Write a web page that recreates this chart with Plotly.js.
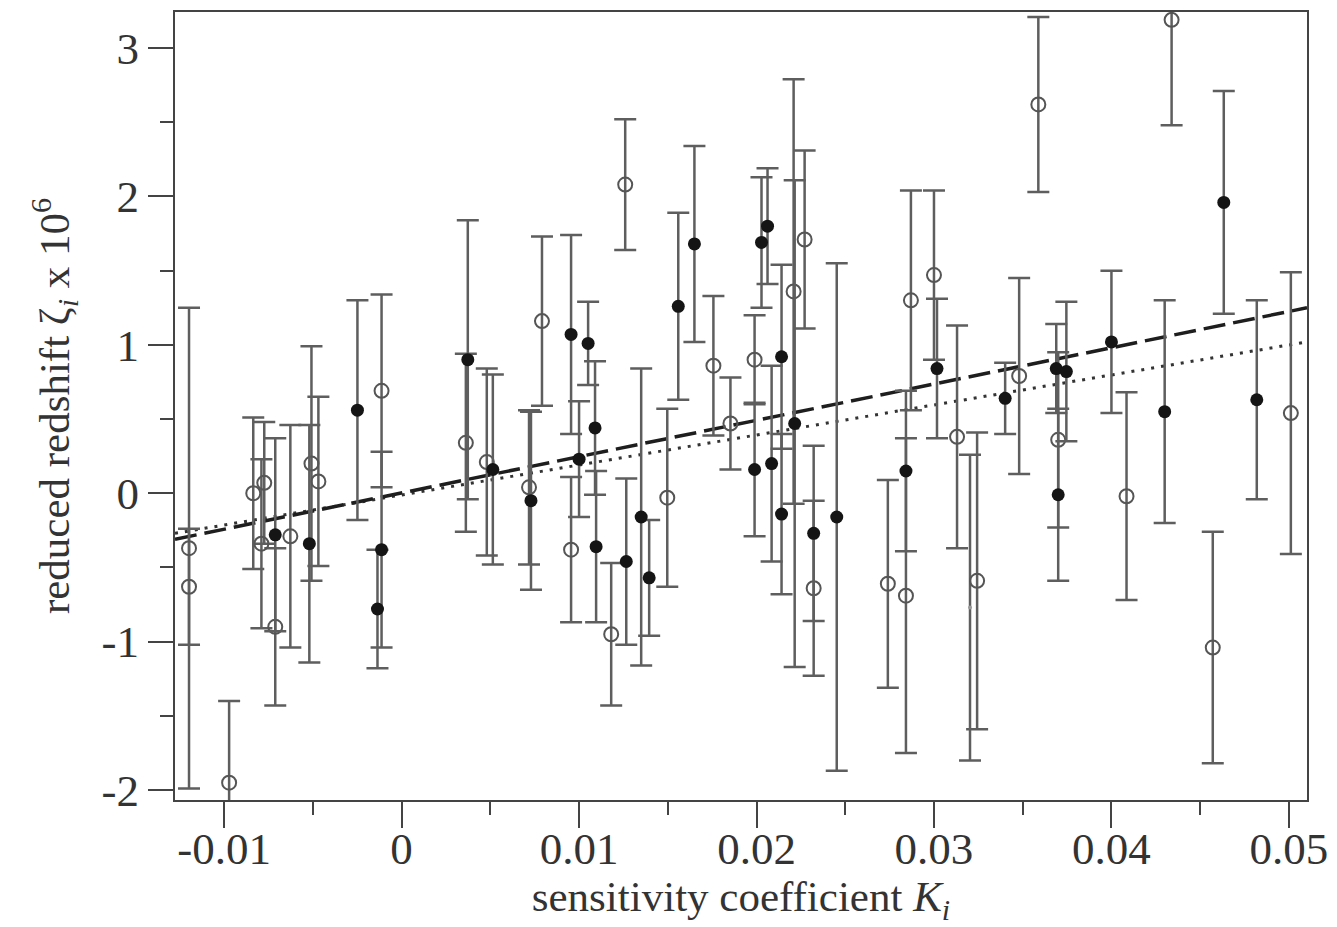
<!DOCTYPE html>
<html>
<head>
<meta charset="utf-8">
<script src="https://cdn.plot.ly/plotly-3.0.1.min.js"></script>
<style>html,body{margin:0;padding:0;background:#fff;}#chart{width:1337px;height:927px;}</style>
</head>
<body>
<div id="chart"></div>
<script>
// Open circles: sensitivity coefficient K, reduced redshift, 1-sigma error
const openK = [-0.01198, -0.01198, -0.00972, -0.00836, -0.00774, -0.0079, -0.00712, -0.00627, -0.00508, -0.00469,
  -0.00113, 0.00362, 0.0048, 0.00718, 0.00791, 0.00955, 0.01181, 0.0126, 0.01497, 0.01757,
  0.01853, 0.01989, 0.02209, 0.02271, 0.02322, 0.0287, 0.02842, 0.0274, 0.03, 0.0313,
  0.03243, 0.0348, 0.037, 0.03588, 0.04339, 0.04085, 0.04571, 0.05011];
const openZ = [-0.37, -0.63, -1.95, 0.00, 0.07, -0.34, -0.90, -0.29, 0.20, 0.08,
  0.69, 0.34, 0.21, 0.04, 1.16, -0.38, -0.95, 2.08, -0.03, 0.86,
  0.47, 0.90, 1.36, 1.71, -0.64, 1.30, -0.69, -0.61, 1.47, 0.38,
  -0.59, 0.79, 0.36, 2.62, 3.19, -0.02, -1.04, 0.54];
const openErr = [1.62, 0.39, 0.55, 0.51, 0.41, 0.57, 0.53, 0.75, 0.79, 0.57,
  0.65, 0.60, 0.63, 0.52, 0.57, 0.49, 0.48, 0.44, 0.60, 0.47,
  0.31, 0.30, 1.43, 0.60, 0.59, 0.74, 1.06, 0.70, 0.57, 0.75,
  1.00, 0.66, 0.59, 0.59, 0.71, 0.70, 0.78, 0.95];

// Filled circles
const fillK = [-0.00712, -0.0052, -0.00249, -0.00113, -0.00136, 0.00373, 0.00514, 0.00729, 0.00955, 0.0100,
  0.01051, 0.0109, 0.01096, 0.01266, 0.0135, 0.01395, 0.01559, 0.0165, 0.01989, 0.02062,
  0.02028, 0.02085, 0.02141, 0.02141, 0.02215, 0.02322, 0.02452, 0.02842, 0.03017, 0.03401,
  0.03689, 0.03746, 0.037, 0.0400, 0.0430, 0.04633, 0.04819];
const fillZ = [-0.28, -0.34, 0.56, -0.38, -0.78, 0.90, 0.16, -0.05, 1.07, 0.23,
  1.01, 0.44, -0.36, -0.46, -0.16, -0.57, 1.26, 1.68, 0.16, 1.80,
  1.69, 0.20, 0.92, -0.14, 0.47, -0.27, -0.16, 0.15, 0.84, 0.64,
  0.84, 0.82, -0.01, 1.02, 0.55, 1.96, 0.63];
const fillErr = [0.65, 0.80, 0.74, 0.66, 0.40, 0.94, 0.64, 0.60, 0.67, 0.39,
  0.28, 0.45, 0.51, 0.56, 1.00, 0.39, 0.63, 0.66, 0.45, 0.39,
  0.44, 0.66, 0.62, 0.54, 1.64, 0.59, 1.71, 0.54, 0.47, 0.24,
  0.30, 0.47, 0.58, 0.48, 0.75, 0.75, 0.67];

// Faint marker
const faintK = [0.03203];
const faintZ = [-0.77];
const faintErr = [1.03];

// Fit lines (end points)
const fitK = [-0.01277, 0.05102];
const dashedFitZ = [-0.31, 1.25];
const dottedFitZ = [-0.27, 1.02];

// Axis ticks
const xTickVals = [-0.01, 0, 0.01, 0.02, 0.03, 0.04, 0.05];
const xTickText = ["-0.01", "0", "0.01", "0.02", "0.03", "0.04", "0.05"];
const yTickVals = [-2, -1, 0, 1, 2, 3];
const yTickText = ["-2", "-1", "0", "1", "2", "3"];

const errStyle = {type: 'data', symmetric: true, color: '#5e5e5e', thickness: 2.5, width: 11};

const traces = [
  {x: fitK, y: dottedFitZ, mode: 'lines', line: {color: '#333', width: 3, dash: '3px,7px'}, hoverinfo: 'skip'},
  {x: fitK, y: dashedFitZ, mode: 'lines', line: {color: '#1e1e1e', width: 3.5, dash: '22px,8px'}, hoverinfo: 'skip'},
  {x: faintK, y: faintZ, mode: 'markers', marker: {color: '#999', size: 4, symbol: 'circle'},
    error_y: Object.assign({array: faintErr}, errStyle)},
  {x: openK, y: openZ, mode: 'markers',
    marker: {symbol: 'circle-open', size: 14, color: '#555', line: {width: 2, color: '#555'}},
    error_y: Object.assign({array: openErr}, errStyle)},
  {x: fillK, y: fillZ, mode: 'markers',
    marker: {symbol: 'circle', size: 13, color: '#151515'},
    error_y: Object.assign({array: fillErr}, errStyle)}
];

const tickFont = {family: 'Liberation Serif, Times New Roman, serif', size: 45, color: '#333'};
const titleFont = {family: 'Liberation Serif, Times New Roman, serif', size: 43, color: '#333'};

const layout = {
  width: 1337, height: 927,
  margin: {l: 175, r: 30, t: 12, b: 127, pad: 0},
  paper_bgcolor: '#fff', plot_bgcolor: '#fff',
  showlegend: false,
  xaxis: {
    range: [-0.01277, 0.05102],
    tickvals: xTickVals, ticktext: xTickText,
    ticks: 'outside', ticklen: 26, tickwidth: 2, tickcolor: '#444',
    minor: {ticks: 'outside', dtick: 0.005, tick0: 0, ticklen: 13, tickwidth: 2, tickcolor: '#444'},
    showgrid: false, zeroline: false,
    showline: true, linecolor: '#444', linewidth: 2, mirror: true,
    tickfont: tickFont, ticklabelstandoff: -18,
    title: {text: 'sensitivity coefficient <i>K</i><sub><i>i</i></sub>', font: titleFont, standoff: 10}
  },
  yaxis: {
    range: [-2.067, 3.243],
    tickvals: yTickVals, ticktext: yTickText,
    ticks: 'outside', ticklen: 25, tickwidth: 2, tickcolor: '#444',
    minor: {ticks: 'outside', dtick: 0.5, tick0: 0, ticklen: 13, tickwidth: 2, tickcolor: '#444'},
    showgrid: false, zeroline: false,
    showline: true, linecolor: '#444', linewidth: 2, mirror: true,
    tickfont: tickFont,
    title: {text: 'reduced redshift ζ<sub><i>i</i></sub> x 10<sup>6</sup>', font: titleFont, standoff: 18}
  }
};

Plotly.newPlot('chart', traces, layout, {displayModeBar: false, staticPlot: true});
</script>
</body>
</html>
